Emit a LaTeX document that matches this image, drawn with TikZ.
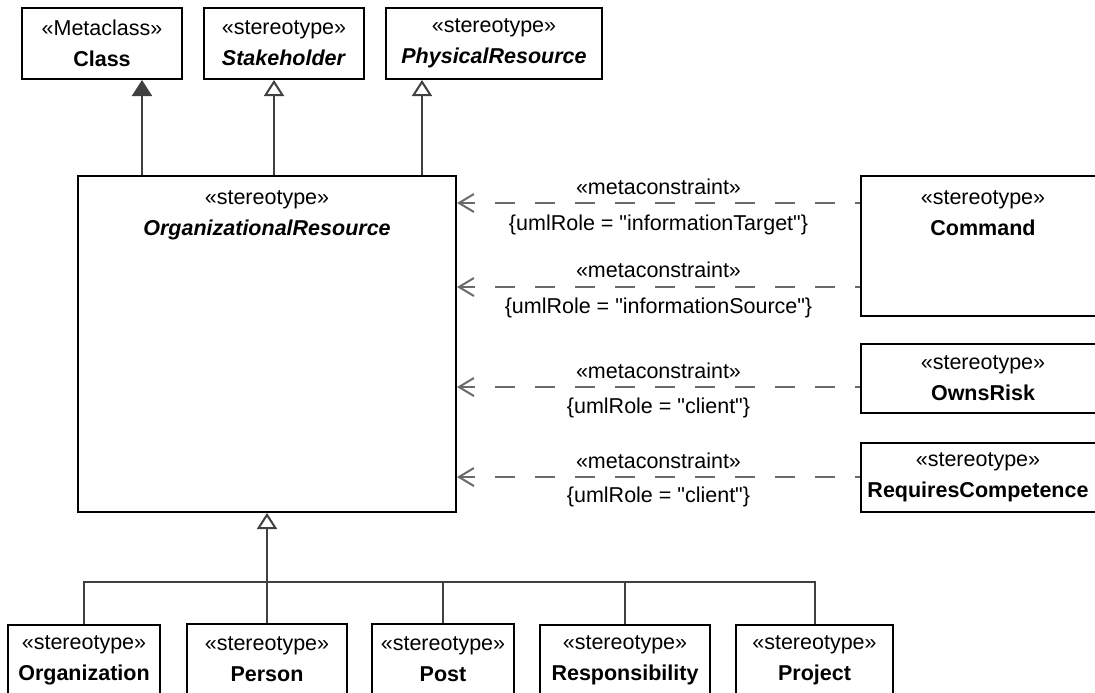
\documentclass[tikz,border=0pt]{standalone}
\usepackage{fontspec}
\setmainfont{Liberation Sans}[Ligatures=TeXOff]
\usetikzlibrary{arrows.meta}
\definecolor{conncol}{HTML}{404040}
\definecolor{depcol}{HTML}{6A6A6A}
\begin{document}
\begin{tikzpicture}[x=1pt,y=-1pt,
  umlbox/.style={draw=black, line width=2pt, inner sep=0pt, fill=white},
  boxtext/.style={align=center, inner sep=0pt, font=\fontsize{21.5}{31}\selectfont},
  lbl/.style={inner sep=0pt, font=\fontsize{21.5}{26}\selectfont, text=black},
  gen/.style={draw=conncol, line width=2pt, -{Triangle[open, length=16pt, width=20pt, fill=white]}},
  genfill/.style={draw=conncol, line width=2pt, -{Triangle[length=16pt, width=20pt, fill=conncol]}},
  tree/.style={draw=conncol, line width=2pt},
  dep/.style={draw=depcol, line width=2pt, dash pattern=on 20pt off 20pt, dash phase=15pt, -{Straight Barb[length=15pt, width=18pt]}}
]
\useasboundingbox (0,0) rectangle (1095,693);
\fill[white] (0,0) rectangle (1095,693);
\clip (0,0) rectangle (1095,693);

% top boxes
\node[umlbox, boxtext, minimum width=160pt, minimum height=71pt] (class) at (102,43.5) {«Metaclass»\\\textbf{Class}};
\node[umlbox, boxtext, minimum width=160pt, minimum height=71pt] (stake) at (284,43.5) {«stereotype»\\\textbf{\itshape Stakeholder}};
\node[umlbox, boxtext, minimum width=216pt, minimum height=71pt] (phys) at (494,43.5) {«stereotype»\\\textbf{\itshape PhysicalResource}};

% central box
\node[umlbox, minimum width=378pt, minimum height=336pt] (org) at (267,344) {};
\node[boxtext] (orgt) at (267,215) {«stereotype»\\\textbf{\itshape OrganizationalResource}};

% right boxes
\node[umlbox, minimum width=244pt, minimum height=140pt] (cmd) at (983,246) {};
\node[boxtext] (cmdt) at (983,213.5) {«stereotype»\\\textbf{Command}};
\node[umlbox, boxtext, minimum width=244pt, minimum height=69pt] (owns) at (983,378.5) {«stereotype»\\\textbf{OwnsRisk}};
\node[umlbox, minimum width=244pt, minimum height=69pt] (reqc) at (983,477.5) {};
\node[boxtext] (reqct) at (978,477.5) {«stereotype»\\\textbf{RequiresCompetence}};

% bottom boxes
\node[umlbox, boxtext, minimum width=152pt, minimum height=70pt] (orgz) at (84,660) {«stereotype»\\\textbf{Organization}};
\node[umlbox, boxtext, minimum width=160pt, minimum height=70pt] (pers) at (267,659) {«stereotype»\\\textbf{Person}};
\node[umlbox, boxtext, minimum width=142pt, minimum height=70pt] (post) at (443,659) {«stereotype»\\\textbf{Post}};
\node[umlbox, boxtext, minimum width=170pt, minimum height=70pt] (resp) at (625,660) {«stereotype»\\\textbf{Responsibility}};
\node[umlbox, boxtext, minimum width=157pt, minimum height=70pt] (proj) at (814.5,660) {«stereotype»\\\textbf{Project}};

% generalizations upward
\coordinate (a1) at (142,0);
\coordinate (a2) at (274,0);
\coordinate (a3) at (422,0);
\draw[genfill] (org.north -| a1) -- (class.south -| a1);
\draw[gen] (org.north -| a2) -- (stake.south -| a2);
\draw[gen] (org.north -| a3) -- (phys.south -| a3);

% generalization tree downward
\coordinate (bus) at (0,582);
\draw[tree] (orgz.north) -- (orgz.north |- bus) -- (proj.north |- bus) -- (proj.north);
\draw[tree] (post.north) -- (post.north |- bus);
\draw[tree] (resp.north) -- (resp.north |- bus);
\draw[gen] (pers.north) -- (org.south);

% metaconstraint dependencies
\coordinate (d1) at (0,203);
\coordinate (d2) at (0,287);
\coordinate (d3) at (0,387);
\coordinate (d4) at (0,477);
\draw[dep] (cmd.west |- d1) -- (org.east |- d1)
  node[lbl, midway, yshift=16pt] (m1) {«metaconstraint»}
  node[lbl, midway, yshift=-22pt] (r1) {\{umlRole = "informationTarget"\}};
\draw[dep] (cmd.west |- d2) -- (org.east |- d2)
  node[lbl, midway, yshift=17pt] (m2) {«metaconstraint»}
  node[lbl, midway, yshift=-21pt] (r2) {\{umlRole = "informationSource"\}};
\draw[dep] (owns.west |- d3) -- (org.east |- d3)
  node[lbl, midway, yshift=16pt] (m3) {«metaconstraint»}
  node[lbl, midway, yshift=-21pt] (r3) {\{umlRole = "client"\}};
\draw[dep] (reqc.west |- d4) -- (org.east |- d4)
  node[lbl, midway, yshift=16pt] (m4) {«metaconstraint»}
  node[lbl, midway, yshift=-20pt] (r4) {\{umlRole = "client"\}};
\end{tikzpicture}
\end{document}
